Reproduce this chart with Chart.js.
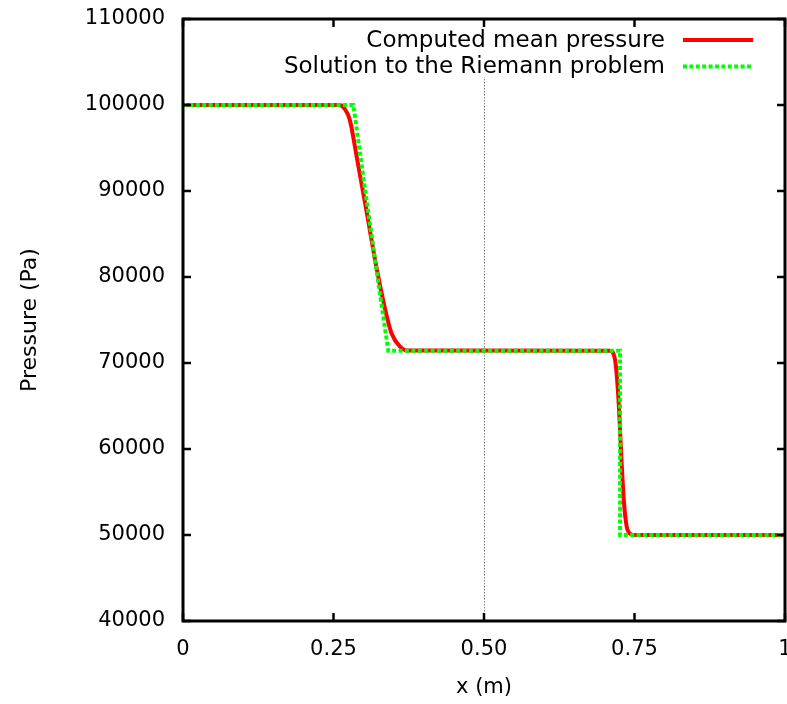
<!DOCTYPE html>
<html>
<head>
<meta charset="utf-8">
<title>Pressure profile</title>
<script src="https://cdn.jsdelivr.net/npm/chart.js@4.4.0/dist/chart.umd.min.js"></script>
<style>
  html, body { margin: 0; padding: 0; background: #fff; }
  #chart { display: block; }
</style>
</head>
<body>
<canvas id="chart" width="787" height="704"></canvas>
<script>
// ── Data ────────────────────────────────────────────────────
const computedX = [0, 0.26, 0.268, 0.277, 0.2885, 0.305, 0.3217, 0.3383, 0.3467, 0.3605, 0.372,
                   0.709, 0.7176, 0.7231, 0.7287, 0.7326, 0.737, 0.7436, 0.75, 1];
const computedP = [100000, 100000, 99600, 98300, 94000, 87600, 81000, 75500, 73400, 71900, 71450,
                   71430, 70400, 66100, 58300, 53700, 51000, 50100, 50000, 50000];

const riemannX = [0, 0.283, 0.300, 0.320, 0.341, 0.726, 0.726, 1];
const riemannP = [100000, 100000, 91400, 81500, 71430, 71430, 50000, 50000];

const xTicks = [0, 0.25, 0.5, 0.75, 1];
const xTickLabels = ['0', '0.25', '0.50', '0.75', '1'];
const yTicks = [40000, 50000, 60000, 70000, 80000, 90000, 100000, 110000];
const markerX = 0.5;   // dotted vertical reference line

const seriesLabels = ['Computed mean pressure', 'Solution to the Riemann problem'];

function toPoints(xs, ys) {
  return xs.map((x, i) => ({ x: x, y: ys[i] }));
}

const FONT = '"DejaVu Sans", "Liberation Sans", sans-serif';

// ── Key (gnuplot style: text right, sample left of border) + frame ──
const gnuplotLook = {
  id: 'gnuplotLook',
  afterDatasetsDraw(chart) {
    const { ctx, chartArea: a } = chart;
    ctx.save();
    // opaque key box
    ctx.fillStyle = '#fff';
    ctx.fillRect(278, a.top, a.right - 278, 58);

    ctx.font = '23px ' + FONT;
    ctx.textAlign = 'right';
    ctx.textBaseline = 'middle';
    const rows = [40, 66.5];
    chart.data.datasets.forEach((ds, i) => {
      if (i >= seriesLabels.length) return;
      const y = rows[i];
      ctx.fillStyle = '#000';
      ctx.fillText(ds.label, 665, y + 1);
      ctx.beginPath();
      ctx.strokeStyle = ds.borderColor;
      ctx.lineWidth = ds.borderWidth;
      ctx.setLineDash(ds.borderDash || []);
      ctx.moveTo(683, y);
      ctx.lineTo(753, y);
      ctx.stroke();
    });
    ctx.restore();
  },
  afterDraw(chart) {
    const { ctx, chartArea: a, scales } = chart;
    ctx.save();
    ctx.strokeStyle = '#000';
    ctx.setLineDash([]);

    // inward ticks on all four sides
    ctx.lineWidth = 2.5;
    const tl = 8;
    ctx.beginPath();
    xTicks.forEach(v => {
      const px = scales.x.getPixelForValue(v);
      ctx.moveTo(px, a.bottom); ctx.lineTo(px, a.bottom - tl);
      ctx.moveTo(px, a.top); ctx.lineTo(px, a.top + tl);
    });
    yTicks.forEach(v => {
      const py = scales.y.getPixelForValue(v);
      ctx.moveTo(a.left, py); ctx.lineTo(a.left + tl, py);
      ctx.moveTo(a.right, py); ctx.lineTo(a.right - tl, py);
    });
    ctx.stroke();

    // border
    ctx.lineWidth = 3;
    ctx.strokeRect(a.left, a.top, a.right - a.left, a.bottom - a.top);
    ctx.restore();
  }
};

new Chart(document.getElementById('chart'), {
  type: 'line',
  data: {
    datasets: [
      {
        label: seriesLabels[0],
        data: toPoints(computedX, computedP),
        borderColor: '#ff0000',
        borderWidth: 4,
        pointRadius: 0,
        cubicInterpolationMode: 'monotone',
        order: 1,
      },
      {
        label: seriesLabels[1],
        data: toPoints(riemannX, riemannP),
        borderColor: '#00ff00',
        borderWidth: 4,
        borderDash: [4, 2.4],
        pointRadius: 0,
        tension: 0,
        order: 0,
      }
    ]
  },
  options: {
    responsive: false,
    animation: false,
    devicePixelRatio: 1,
    layout: { padding: { top: 19, right: 2, left: 0, bottom: 0 } },
    plugins: {
      legend: { display: false },
      tooltip: { enabled: false },
    },
    scales: {
      x: {
        type: 'linear',
        min: 0,
        max: 1,
        afterBuildTicks: s => { s.ticks = xTicks.map(v => ({ value: v })); },
        afterFit: s => { s.height = 83; s.paddingLeft = 0; s.paddingRight = 0; },
        ticks: {
          callback: (v, i) => xTickLabels[i],
          maxRotation: 0,
          autoSkip: false,
          padding: 16,
          color: '#000',
          font: { family: FONT, size: 21 },
        },
        grid: {
          drawTicks: false,
          lineWidth: 1,
          color: c => (c.tick && c.tick.value === markerX ? '#808080' : 'rgba(0,0,0,0)'),
        },
        border: { display: false, dash: [1.5, 1.5] },
        title: {
          display: true,
          text: 'x (m)',
          color: '#000',
          font: { family: FONT, size: 21 },
          padding: { top: 0, bottom: 4 },
        },
      },
      y: {
        min: 40000,
        max: 110000,
        afterBuildTicks: s => { s.ticks = yTicks.map(v => ({ value: v })); },
        afterFit: s => { s.width = 183; s.paddingTop = 0; s.paddingBottom = 0; },
        ticks: {
          callback: v => String(v),
          padding: 18,
          color: '#000',
          font: { family: FONT, size: 21 },
        },
        grid: { display: false, drawTicks: false },
        border: { display: false },
        title: {
          display: true,
          text: 'Pressure (Pa)',
          color: '#000',
          font: { family: FONT, size: 22 },
          padding: { top: 17, bottom: 0 },
        },
      }
    }
  },
  plugins: [gnuplotLook]
});
</script>
</body>
</html>
